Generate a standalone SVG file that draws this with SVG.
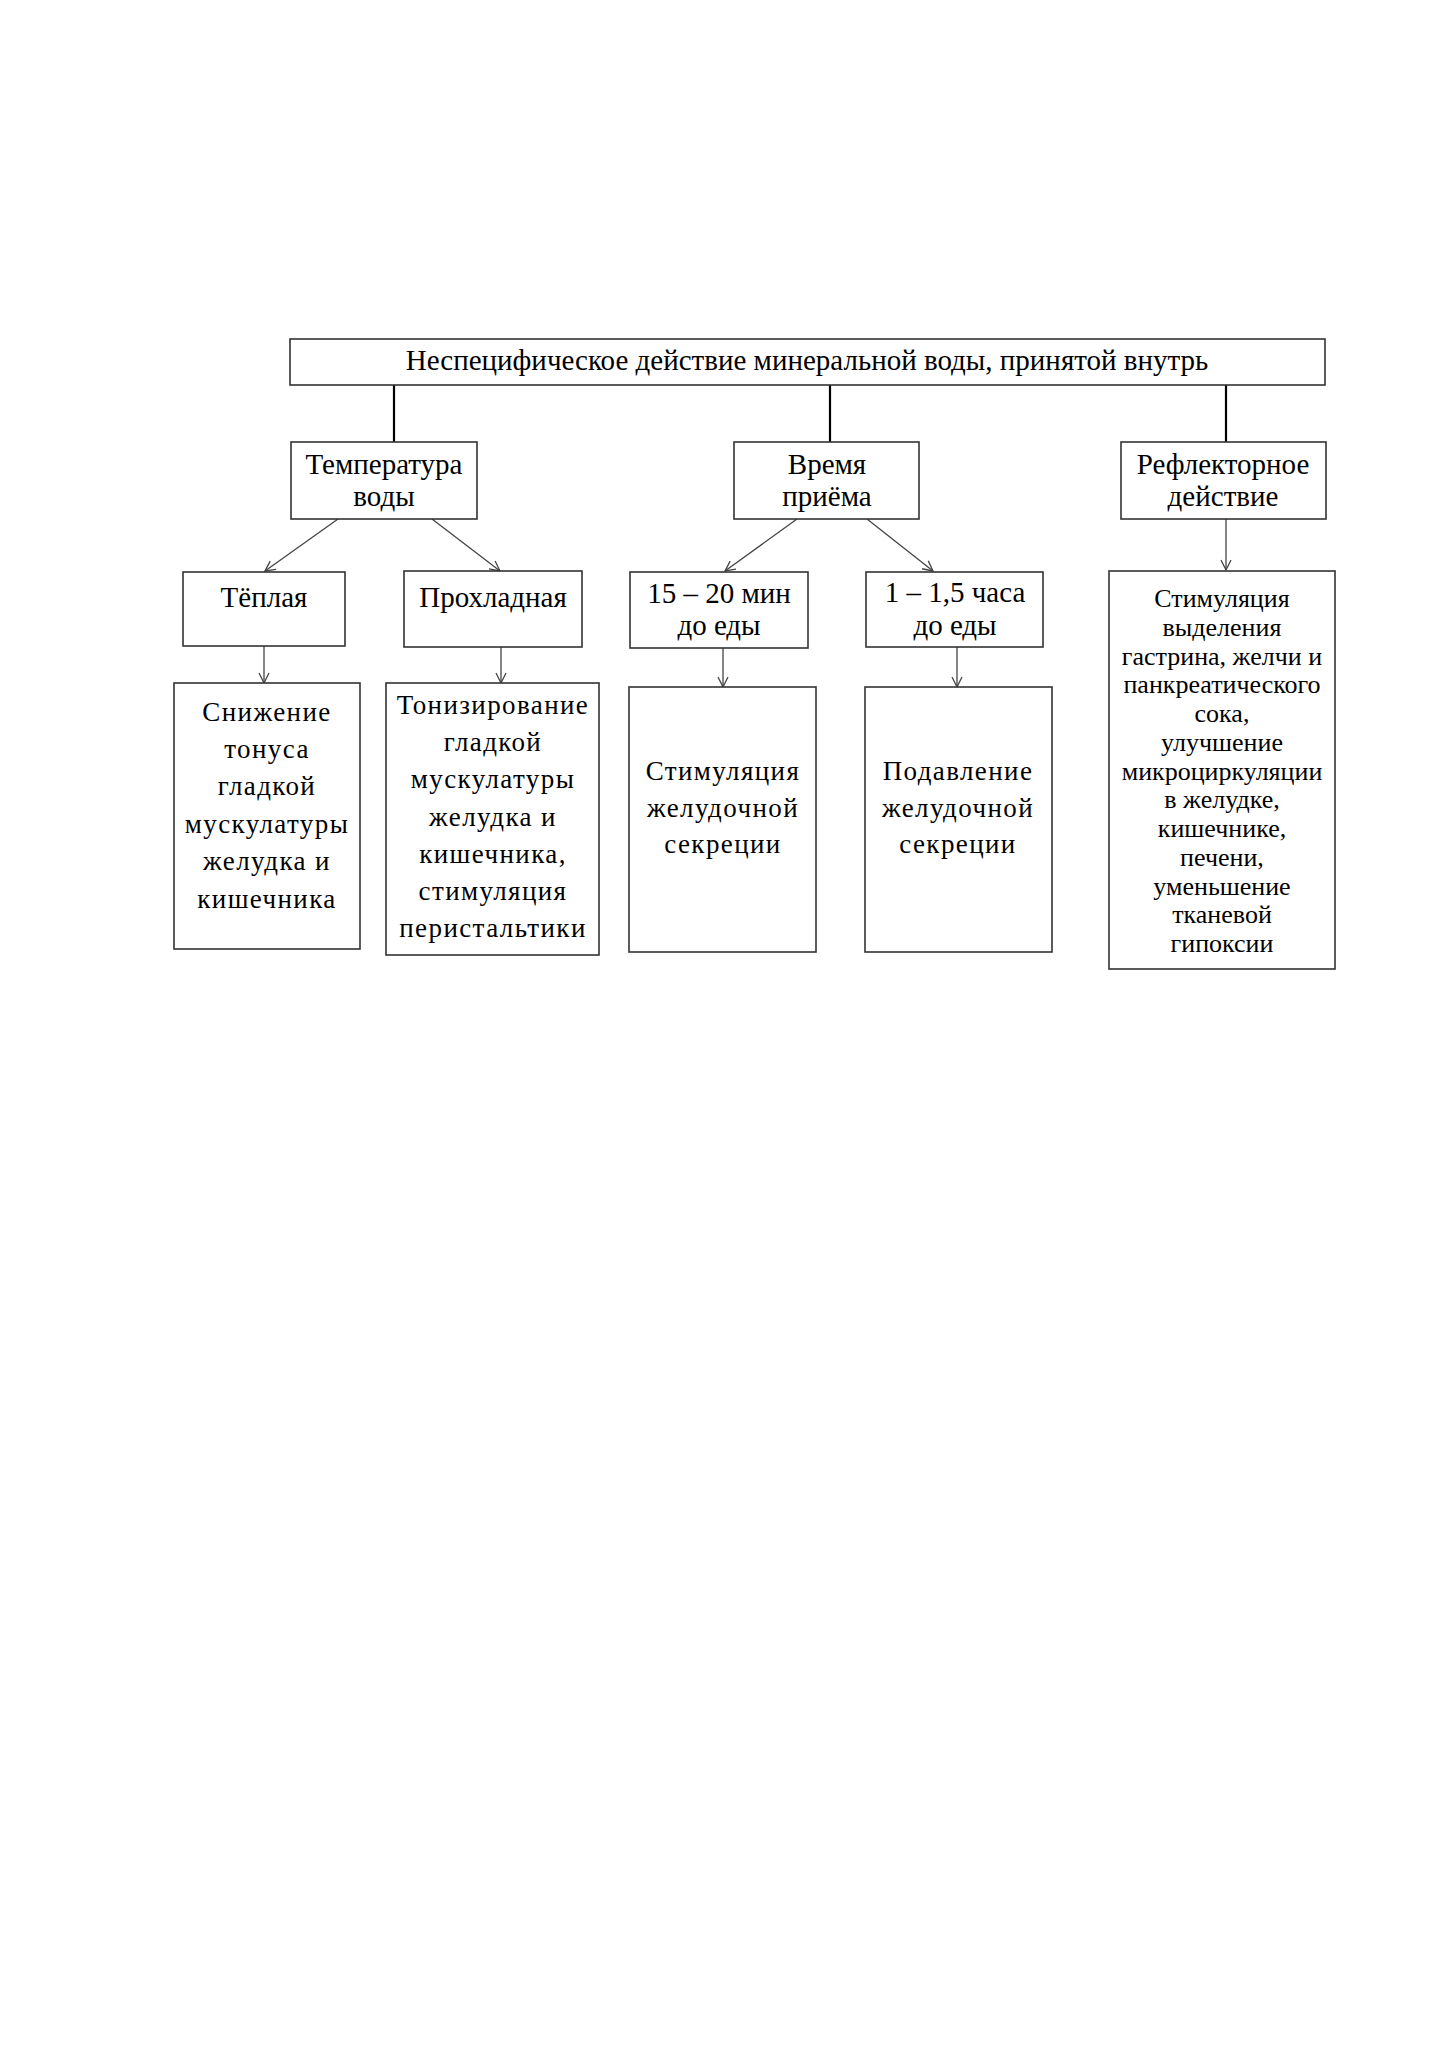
<svg xmlns="http://www.w3.org/2000/svg" width="1449" height="2050" viewBox="0 0 1449 2050">
<style>
rect.b{fill:#fff;stroke:#333;stroke-width:1.6}
text{font-family:"Liberation Serif","Times New Roman",serif;fill:#000;text-anchor:middle}
.t{font-size:29px}
.s{font-size:27px;letter-spacing:1.4px}
.r{font-size:26px}
.thick{stroke:#000;stroke-width:2.2;fill:none}
.arr{stroke:#444;stroke-width:1.3;fill:none;marker-end:url(#ah)}
</style>
<defs>
<marker id="ah" viewBox="0 0 12 12" refX="11" refY="6" markerWidth="12" markerHeight="12" markerUnits="userSpaceOnUse" orient="auto">
<path d="M1,1 L11,6 L1,11" fill="none" stroke="#444" stroke-width="1.3"/>
</marker>
</defs>
<rect width="1449" height="2050" fill="#fff"/>
<g id="connectors">
<line class="thick" x1="394" y1="385" x2="394" y2="442"/>
<line class="thick" x1="830" y1="385" x2="830" y2="442"/>
<line class="thick" x1="1226" y1="385" x2="1226" y2="442"/>
<line class="arr" x1="338" y1="519" x2="265" y2="571"/>
<line class="arr" x1="432" y1="519" x2="500" y2="571"/>
<line class="arr" x1="797" y1="519" x2="725" y2="571"/>
<line class="arr" x1="867" y1="519" x2="933" y2="571"/>
<line class="arr" x1="1226" y1="519" x2="1226" y2="570"/>
<line class="arr" x1="264" y1="646" x2="264" y2="683"/>
<line class="arr" x1="501" y1="647" x2="501" y2="683"/>
<line class="arr" x1="723" y1="648" x2="723" y2="687"/>
<line class="arr" x1="957" y1="647" x2="957" y2="687"/>
</g>
<g id="root">
<rect class="b" x="290" y="339" width="1035" height="46"/>
<text class="t" x="807" y="370">Неспецифическое действие минеральной воды, принятой внутрь</text>
</g>
<g id="temp">
<rect class="b" x="291" y="442" width="186" height="77"/>
<text class="t" x="384" y="474">Температура</text>
<text class="t" x="384" y="506">воды</text>
</g>
<g id="time">
<rect class="b" x="734" y="442" width="185" height="77"/>
<text class="t" x="827" y="474">Время</text>
<text class="t" x="827" y="506">приёма</text>
</g>
<g id="reflex">
<rect class="b" x="1121" y="442" width="205" height="77"/>
<text class="t" x="1223" y="474">Рефлекторное</text>
<text class="t" x="1223" y="506">действие</text>
</g>
<g id="warm">
<rect class="b" x="183" y="572" width="162" height="74"/>
<text class="t" x="264" y="607">Тёплая</text>
</g>
<g id="cool">
<rect class="b" x="404" y="571" width="178" height="76"/>
<text class="t" x="493" y="607">Прохладная</text>
</g>
<g id="t15">
<rect class="b" x="630" y="572" width="178" height="76"/>
<text class="t" x="719" y="603">15 – 20 мин</text>
<text class="t" x="719" y="635">до еды</text>
</g>
<g id="t1">
<rect class="b" x="866" y="572" width="177" height="75"/>
<text class="t" x="955" y="602">1 – 1,5 часа</text>
<text class="t" x="955" y="635">до еды</text>
</g>
<g id="warm-effect">
<rect class="b" x="174" y="683" width="186" height="266"/>
<text class="s" x="267" y="721">Снижение</text>
<text class="s" x="267" y="758">тонуса</text>
<text class="s" x="267" y="795">гладкой</text>
<text class="s" x="267" y="833">мускулатуры</text>
<text class="s" x="267" y="870">желудка и</text>
<text class="s" x="267" y="908">кишечника</text>
</g>
<g id="cool-effect">
<rect class="b" x="386" y="683" width="213" height="272"/>
<text class="s" x="493" y="714">Тонизирование</text>
<text class="s" x="493" y="751">гладкой</text>
<text class="s" x="493" y="788">мускулатуры</text>
<text class="s" x="493" y="826">желудка и</text>
<text class="s" x="493" y="863">кишечника,</text>
<text class="s" x="493" y="900">стимуляция</text>
<text class="s" x="493" y="937">перистальтики</text>
</g>
<g id="t15-effect">
<rect class="b" x="629" y="687" width="187" height="265"/>
<text class="s" x="723" y="780">Стимуляция</text>
<text class="s" x="723" y="817">желудочной</text>
<text class="s" x="723" y="853">секреции</text>
</g>
<g id="t1-effect">
<rect class="b" x="865" y="687" width="187" height="265"/>
<text class="s" x="958" y="780">Подавление</text>
<text class="s" x="958" y="817">желудочной</text>
<text class="s" x="958" y="853">секреции</text>
</g>
<g id="reflex-effect">
<rect class="b" x="1109" y="571" width="226" height="398"/>
<text class="r" x="1222" y="607">Стимуляция</text>
<text class="r" x="1222" y="635.75">выделения</text>
<text class="r" x="1222" y="664.5">гастрина, желчи и</text>
<text class="r" x="1222" y="693.25">панкреатического</text>
<text class="r" x="1222" y="722">сока,</text>
<text class="r" x="1222" y="750.75">улучшение</text>
<text class="r" x="1222" y="779.5">микроциркуляции</text>
<text class="r" x="1222" y="808.25">в желудке,</text>
<text class="r" x="1222" y="837">кишечнике,</text>
<text class="r" x="1222" y="865.75">печени,</text>
<text class="r" x="1222" y="894.5">уменьшение</text>
<text class="r" x="1222" y="923.25">тканевой</text>
<text class="r" x="1222" y="952">гипоксии</text>
</g>
</svg>
